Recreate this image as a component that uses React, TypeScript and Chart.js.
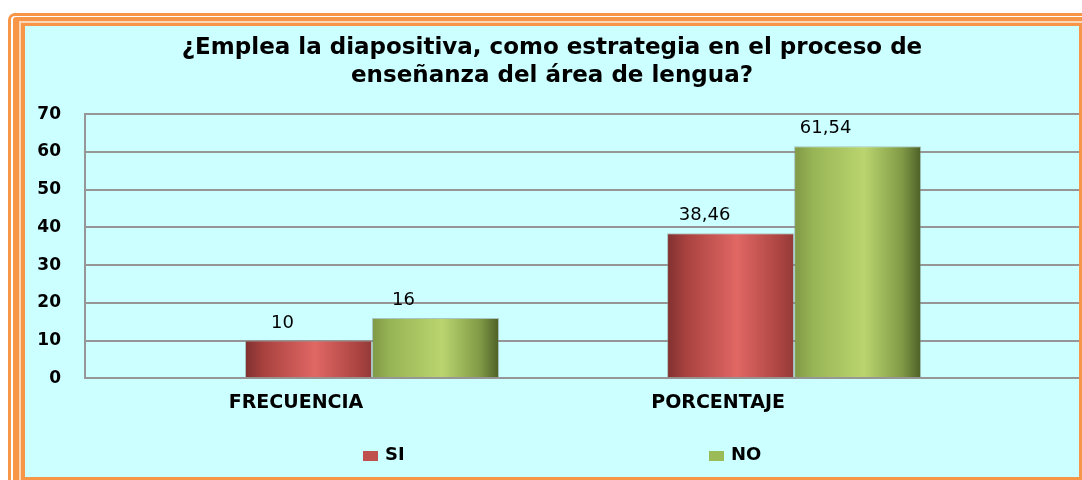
import React, { useEffect, useRef } from "react";
import { Chart, registerables } from "chart.js";

Chart.register(...registerables);

// ---- data ----
const TITLE_LINES = [
  "¿Emplea la diapositiva, como estrategia en el proceso de",
  "enseñanza del área de lengua?",
];
const CATEGORIES = ["FRECUENCIA", "PORCENTAJE"];
const SERIES_NAMES = ["SI", "NO"];
const SI_VALUES = [10, 38.46];
const NO_VALUES = [16, 61.54];
const Y_TICKS = [0, 10, 20, 30, 40, 50, 60, 70];

// ---- styles ----
const FONT = "'DejaVu Sans', Verdana, sans-serif";
const SERIES_COLORS = ["#C0504D", "#9BBB59"];
const SERIES_STOPS: [number, string][][] = [
  [
    [0, "#7f3130"],
    [0.15, "#a9423f"],
    [0.55, "#e06764"],
    [0.88, "#ad4542"],
    [1, "#923a38"],
  ],
  [
    [0, "#7f9845"],
    [0.15, "#98b556"],
    [0.55, "#bad56f"],
    [0.85, "#809a46"],
    [1, "#4d5f27"],
  ],
];
const LABEL_SHIFT = [-26, -32];
const X_MIN = -0.68;
const X_MAX = 1.675;

const fmt = (v: number) => String(v).replace(".", ",");

const gradientPlugin = {
  id: "barGradient",
  beforeDatasetsDraw(chart: any) {
    const { ctx } = chart;
    chart.data.datasets.forEach((_ds: any, di: number) => {
      const meta = chart.getDatasetMeta(di);
      meta.data.forEach((el: any) => {
        const { x, width } = el.getProps(["x", "width"], true);
        const left = x - width / 2;
        const g = ctx.createLinearGradient(left, 0, left + width, 0);
        SERIES_STOPS[di].forEach(([o, c]) => g.addColorStop(o, c));
        el.options = Object.assign({}, el.options, { backgroundColor: g });
      });
    });
  },
};

const valueLabelPlugin = {
  id: "valueLabels",
  afterDatasetsDraw(chart: any) {
    const { ctx } = chart;
    const series = [SI_VALUES, NO_VALUES];
    ctx.save();
    ctx.font = `18px ${FONT}`;
    ctx.fillStyle = "#000";
    ctx.textAlign = "center";
    ctx.textBaseline = "alphabetic";
    chart.data.datasets.forEach((_ds: any, di: number) => {
      const meta = chart.getDatasetMeta(di);
      meta.data.forEach((el: any, i: number) => {
        const { x, y } = el.getProps(["x", "y"], true);
        ctx.fillText(fmt(series[di][i]), x + LABEL_SHIFT[di], y - 13);
      });
    });
    ctx.restore();
  },
};

const legendPlugin = {
  id: "customLegend",
  afterDraw(chart: any) {
    const { ctx } = chart;
    const starts = [338, 684];
    ctx.save();
    ctx.font = `bold 18px ${FONT}`;
    ctx.textAlign = "left";
    ctx.textBaseline = "middle";
    SERIES_NAMES.forEach((name, i) => {
      const x0 = starts[i];
      ctx.fillStyle = SERIES_COLORS[i];
      ctx.fillRect(x0, 425, 15, 10);
      ctx.fillStyle = "#000";
      ctx.fillText(name, x0 + 22, 429.5);
    });
    ctx.restore();
  },
};

function BarChart() {
  const canvasRef = useRef<HTMLCanvasElement | null>(null);

  useEffect(() => {
    if (!canvasRef.current) return;
    const seriesValues = [SI_VALUES, NO_VALUES];
    const chart = new Chart(canvasRef.current, {
      type: "bar",
      data: {
        datasets: SERIES_NAMES.map((name, di) => ({
          label: name,
          data: CATEGORIES.map((_c, i) => ({ x: i, y: seriesValues[di][i] })),
          backgroundColor: () => SERIES_COLORS[di],
          borderColor: "rgba(130,140,130,0.5)",
          borderWidth: 1,
          categoryPercentage: 0.602,
          barPercentage: 1,
        })),
      },
      options: {
        animation: false,
        responsive: true,
        maintainAspectRatio: false,
        layout: { padding: { left: 0, right: 0, top: 0, bottom: 49 } },
        plugins: {
          legend: { display: false },
          tooltip: { enabled: false },
          title: {
            display: true,
            text: TITLE_LINES,
            color: "#000",
            font: { family: FONT, size: 23, weight: "bold", lineHeight: 28 / 23 },
            padding: { top: 8, bottom: 24.3 },
          },
        },
        scales: {
          x: {
            type: "linear",
            offset: false,
            bounds: "data",
            min: X_MIN,
            max: X_MAX,
            grid: { display: false, drawTicks: false, offset: false },
            border: { display: false },
            afterBuildTicks: (s: any) => {
              s.ticks = CATEGORIES.map((_c, i) => ({ value: i }));
            },
            ticks: {
              callback: (v: any) => CATEGORIES[v] ?? "",
              labelOffset: -76,
              padding: 13.5,
              maxRotation: 0,
              autoSkip: false,
              color: "#000",
              font: { family: FONT, size: 19, weight: "bold" },
            },
          },
          y: {
            min: 0,
            max: 70,
            afterBuildTicks: (s: any) => {
              s.ticks = Y_TICKS.map((v) => ({ value: v }));
            },
            afterFit: (s: any) => {
              s.width = 60;
            },
            grid: { color: "#969696", lineWidth: 2, drawTicks: false },
            border: { display: true, color: "#969696", width: 2 },
            ticks: {
              padding: 24,
              color: "#000",
              font: { family: FONT, size: 17, weight: "bold" },
            },
          },
        },
      } as any,
      plugins: [gradientPlugin, valueLabelPlugin, legendPlugin],
    });
    return () => chart.destroy();
  }, []);

  return (
    <div style={{ position: "relative", width: 1054, height: 451 }}>
      <canvas ref={canvasRef} />
    </div>
  );
}

export default function App() {
  const orange = "#F79646";
  return (
    <div
      style={{
        position: "fixed",
        left: 0,
        top: 0,
        width: 1082,
        height: 480,
        overflow: "hidden",
        background: "#fff",
      }}
    >
      <div
        style={{
          position: "absolute",
          left: 8,
          top: 13,
          border: `3px solid ${orange}`,
          borderTopLeftRadius: 7,
          paddingTop: 1,
          paddingLeft: 2,
          paddingRight: 2,
          paddingBottom: 2,
          background: "#fff",
        }}
      >
        <div
          style={{
            borderTop: `4px solid ${orange}`,
            borderLeft: `6px solid ${orange}`,
            borderRight: `6px solid ${orange}`,
            borderBottom: `6px solid ${orange}`,
            borderTopLeftRadius: 3,
            padding: 2,
            background: "#FAD7B8",
          }}
        >
          <div
            style={{
              borderTop: `3px solid ${orange}`,
              borderLeft: `4px solid ${orange}`,
              borderRight: `3px solid ${orange}`,
              borderBottom: `3px solid ${orange}`,
              background: "#CCFFFF",
              width: 1054,
              height: 451,
            }}
          >
            <BarChart />
          </div>
        </div>
      </div>
    </div>
  );
}
